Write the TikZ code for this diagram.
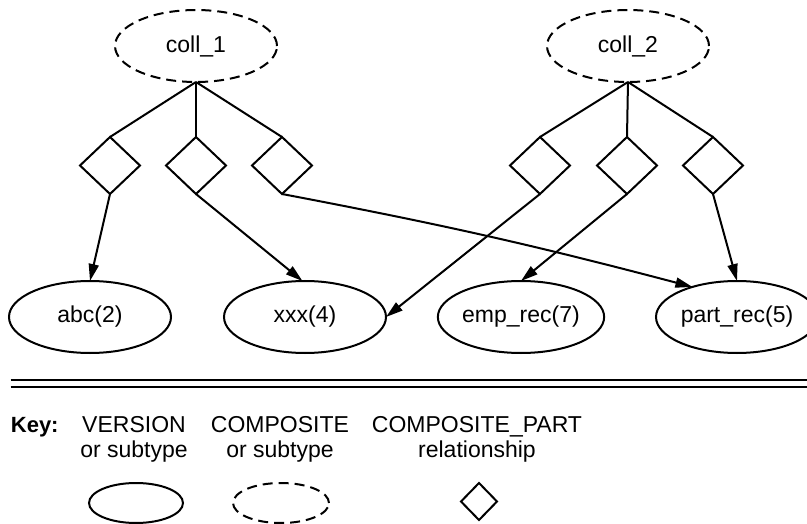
\documentclass[tikz,border=0pt]{standalone}
\usepackage{fontspec}
\setmainfont{Liberation Sans}
\usetikzlibrary{shapes.geometric,arrows.meta}

\begin{document}
\begin{tikzpicture}[x=1pt,y=-1pt,
  every node/.style={font=\fontsize{23}{25}\selectfont},
  ver/.style={draw,ellipse,line width=2pt,minimum width=162pt,minimum height=72pt,inner sep=0pt,outer sep=0pt},
  comp/.style={ver,dash pattern=on 10pt off 6pt},
  rel/.style={draw,diamond,line width=2pt,minimum width=60pt,minimum height=57pt,inner sep=0pt,outer sep=0pt},
  link/.style={line width=2pt},
  arr/.style={link,-{Triangle[length=17pt,width=10pt]}},
  keytext/.style={anchor=base,inner sep=0pt}
]
\useasboundingbox (0,0) rectangle (807,524);
\clip (0,0) rectangle (807,524);

% composite objects
\node[comp] (c1) at (196,46) {coll\_1};
\node[comp] (c2) at (628,46) {coll\_2};

% composite-part relationships
\node[rel] (d11) at (110,165.5) {};
\node[rel] (d12) at (196,165.5) {};
\node[rel] (d13) at (282,165.5) {};
\node[rel] (d21) at (540,165.5) {};
\node[rel] (d22) at (627,165.5) {};
\node[rel] (d23) at (713,165.5) {};

% versions
\node[ver] (abc) at (90,317) {abc(2)};
\node[ver] (xxx) at (305,317) {xxx(4)};
\node[ver] (emp) at (521,317) {emp\_rec(7)};
\node[ver] (part) at (737,317) {part\_rec(5)};

% composite to relationship
\foreach \d in {d11,d12,d13} \draw[link] (c1.south) -- (\d.north);
\foreach \d in {d21,d22,d23} \draw[link] (c2.south) -- (\d.north);

% relationship to part
\draw[arr] (d11.south) -- (abc.north);
\draw[arr] (d12.south) -- (xxx.94);
\draw[arr] (d13.south) to[bend left=2] (part.146);
\draw[arr] (d21.south) -- (xxx.east);
\draw[arr] (d22.south) -- (emp.north);
\draw[arr] (d23.south) -- (part.north);

% separator
\draw[line width=2pt] (10.5,379.5) -- (807,379.5);
\draw[line width=2pt] (10.5,386.5) -- (807,386.5);

% key
\node[keytext,anchor=base west,font=\fontsize{22}{25}\selectfont\bfseries] (key) at (10.7,432) {Key:};
\node[keytext] (v1) at (134,432) {VERSION};
\node[keytext] (v2) at (134,457) {or subtype};
\node[keytext] (cp1) at (280,432) {COMPOSITE};
\node[keytext] (cp2) at (280,457) {or subtype};
\node[keytext] (r1) at (477,432) {COMPOSITE\_PART};
\node[keytext] (r2) at (477,457) {relationship};

\node[ver,minimum width=94pt,minimum height=40pt] (kv) at (136,503) {};
\node[comp,minimum width=96pt,minimum height=40pt] (kc) at (281,503) {};
\node[rel,minimum width=36pt,minimum height=37pt] (kr) at (479,501.5) {};
\end{tikzpicture}
\end{document}
